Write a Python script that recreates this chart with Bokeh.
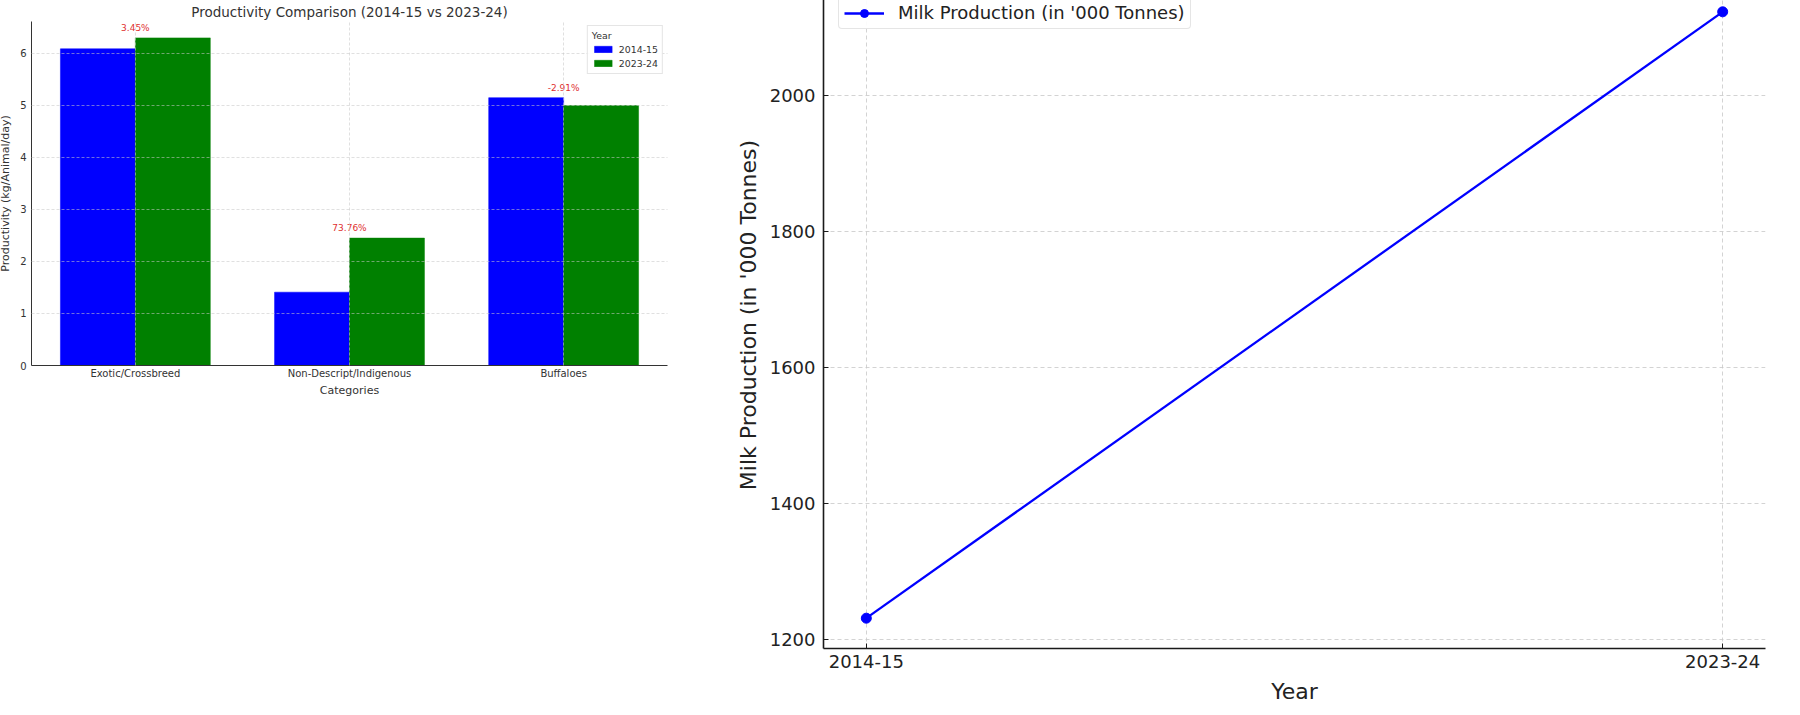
from bokeh.plotting import figure
from bokeh.models import (FactorRange, Range1d, Legend, LegendItem, FixedTicker,
                          SingleIntervalTicker, ColumnDataSource)
from bokeh.layouts import row
from bokeh.transform import dodge
from bokeh.core.properties import value
from bokeh.embed import file_html
from bokeh.resources import INLINE

# ---------------- data ----------------
categories = ["Exotic/Crossbreed", "Non-Descript/Indigenous", "Buffaloes"]
bar_years = ["2014-15", "2023-24"]
prod_2014_15 = [6.09, 1.41, 5.15]
prod_2023_24 = [6.30, 2.45, 5.00]
pct_labels = ["3.45%", "73.76%", "-2.91%"]

years = ["2014-15", "2023-24"]
milk_production = [1231, 2123]

FONT = "DejaVu Sans"
TXT = "#333333"

# ---------------- left: grouped bars ----------------
bar_src = ColumnDataSource(dict(cat=categories, a=prod_2014_15, b=prod_2023_24,
                                top=[max(x, y) for x, y in zip(prod_2014_15, prod_2023_24)],
                                pct=pct_labels))
ymax1 = max(max(prod_2014_15), max(prod_2023_24)) * 1.05

p1 = figure(x_range=FactorRange(*categories, range_padding=-0.01),
            y_range=Range1d(0, ymax1),
            frame_width=636, frame_height=344,
            min_border_left=0, min_border_right=8, min_border_top=0, min_border_bottom=0,
            output_backend="svg", toolbar_location=None, margin=(0, 0, 0, -4))
p1.outline_line_color = None

r1 = p1.vbar(x=dodge("cat", -0.175, range=p1.x_range), top="a", width=0.35, source=bar_src,
             fill_color="#0000ff", line_color="#0000ff", line_width=0.5)
r2 = p1.vbar(x=dodge("cat", 0.175, range=p1.x_range), top="b", width=0.35, source=bar_src,
             fill_color="#008000", line_color="#008000", line_width=0.5)
p1.text(x="cat", y="top", text="pct", source=bar_src, y_offset=-5,
        text_align="center", text_baseline="bottom", text_color="#e03030",
        text_font_size="9px", text_font=value(FONT))

p1.title.text = "Productivity Comparison (2014-15 vs 2023-24)"
p1.title.align = "center"
p1.title.text_font = FONT
p1.title.text_font_size = "13.5px"
p1.title.text_font_style = "normal"
p1.title.text_color = TXT
p1.title.standoff = 3

for ax in (p1.xaxis[0], p1.yaxis[0]):
    ax.axis_line_color = "#333333"
    ax.axis_line_width = 1
    ax.major_tick_in = 0
    ax.major_tick_out = 0
    ax.minor_tick_line_color = None
    ax.major_label_text_font = FONT
    ax.major_label_text_font_size = "10px"
    ax.major_label_text_color = TXT
    ax.axis_label_text_font = FONT
    ax.axis_label_text_font_size = "11px"
    ax.axis_label_text_font_style = "normal"
    ax.axis_label_text_color = TXT

p1.xaxis.axis_label = "Categories"
p1.xaxis.major_label_standoff = 2
p1.xaxis.axis_label_standoff = 2
p1.yaxis.axis_label = "Productivity (kg/Animal/day)"
p1.yaxis.ticker = FixedTicker(ticks=[0, 1, 2, 3, 4, 5, 6])
p1.yaxis.major_label_standoff = 5
p1.yaxis.axis_label_standoff = 5

for g in (p1.xgrid[0], p1.ygrid[0]):
    g.grid_line_color = "#c8c8c8"
    g.grid_line_dash = "3 2"
    g.grid_line_width = 0.8
    g.grid_line_alpha = 0.7
    g.level = "annotation"

leg1 = Legend(items=[LegendItem(label=bar_years[0], renderers=[r1]),
                     LegendItem(label=bar_years[1], renderers=[r2])],
              location="top_right", title="Year",
              label_text_font=FONT, label_text_font_size="9.4px", label_text_color=TXT,
              title_text_font=FONT, title_text_font_size="9.4px", title_text_color=TXT,
              title_text_font_style="normal", title_standoff=2,
              glyph_width=22, glyph_height=8, label_height=12, spacing=2,
              padding=4, margin=4, label_standoff=5,
              border_line_color="#cccccc", border_line_width=1,
              background_fill_alpha=0.9)
p1.add_layout(leg1)

# ---------------- right: line ----------------
xs = list(range(len(years)))
span = max(milk_production) - min(milk_production)
p2 = figure(title=None,
            x_range=Range1d(-0.05, len(years) - 1 + 0.05),
            y_range=Range1d(min(milk_production) - 0.05 * span, max(milk_production) + 0.05 * span),
            frame_width=942, height=746,
            min_border_left=0, min_border_right=20, min_border_top=0, min_border_bottom=54,
            output_backend="svg", toolbar_location=None, margin=(-40, 0, -15, 57))
p2.outline_line_color = None

lr = p2.line(xs, milk_production, line_color="#0000ff", line_width=2.3)
sr = p2.scatter(xs, milk_production, size=10, fill_color="#0000ff", line_color="#0000ff")

for ax in (p2.xaxis[0], p2.yaxis[0]):
    ax.axis_line_color = "#1a1a1a"
    ax.axis_line_width = 1.6
    ax.major_tick_in = 5
    ax.major_tick_out = 0
    ax.major_tick_line_color = "#1a1a1a"
    ax.minor_tick_line_color = None
    ax.major_label_text_font = FONT
    ax.major_label_text_font_size = "18px"
    ax.major_label_text_color = "#222222"
    ax.axis_label_text_font = FONT
    ax.axis_label_text_font_size = "22px"
    ax.axis_label_text_font_style = "normal"
    ax.axis_label_text_color = "#222222"

p2.xaxis.ticker = FixedTicker(ticks=xs)
p2.xaxis.major_label_overrides = {i: y for i, y in zip(xs, years)}
p2.xaxis.axis_label = "Year"
p2.xaxis.major_label_standoff = 6
p2.xaxis.axis_label_standoff = 8
p2.yaxis.ticker = SingleIntervalTicker(interval=200, num_minor_ticks=0)
p2.yaxis.axis_label = "Milk Production (in '000 Tonnes)"
p2.yaxis.major_label_standoff = 8
p2.yaxis.axis_label_standoff = 6

for g in (p2.xgrid[0], p2.ygrid[0]):
    g.grid_line_color = "#c8c8c8"
    g.grid_line_dash = "4 3"
    g.grid_line_width = 1
    g.grid_line_alpha = 0.8

leg2 = Legend(items=[LegendItem(label="Milk Production (in '000 Tonnes)", renderers=[lr, sr])],
              location="top_left",
              label_text_font=FONT, label_text_font_size="18px", label_text_color="#222222",
              glyph_width=40, glyph_height=20, label_height=20, padding=5, margin=15,
              label_standoff=14, border_line_color="#cccccc", border_line_width=1,
              border_radius=4, background_fill_alpha=0.9)
p2.add_layout(leg2)

layout = row(p1, p2, spacing=0)
open("out.html", "w").write(file_html(layout, INLINE))
